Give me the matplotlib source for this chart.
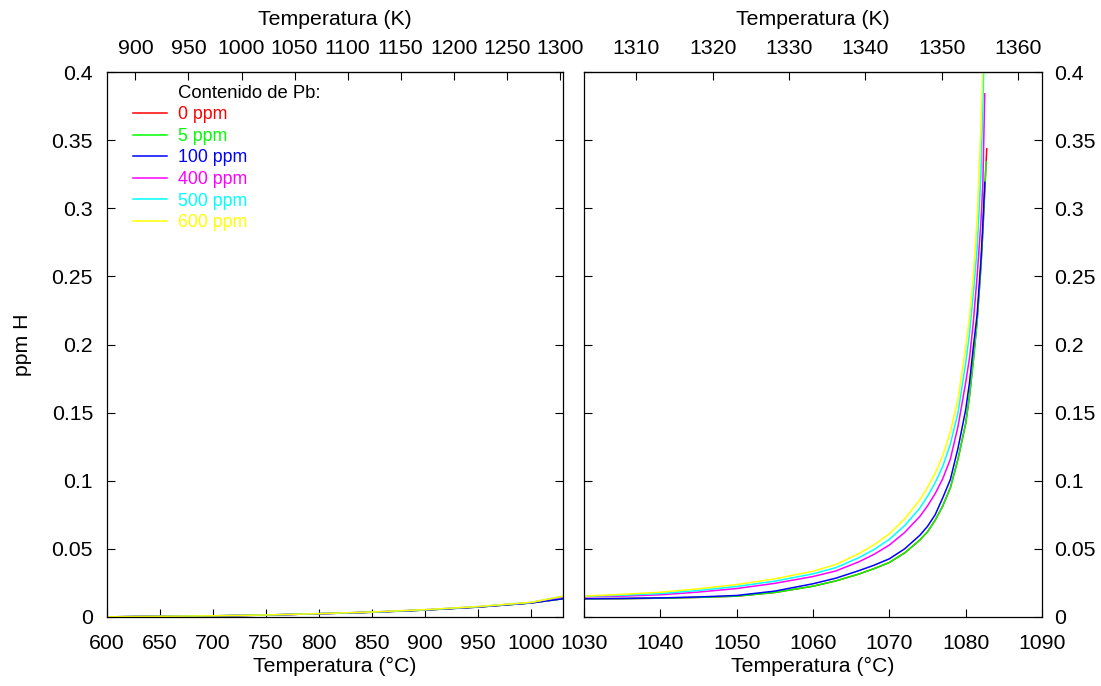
import numpy as np
import matplotlib
matplotlib.use("Agg")
from matplotlib import pyplot as plt
from matplotlib.lines import Line2D

plt.rcParams['font.family'] = ['Liberation Sans', 'DejaVu Sans']

# temperature grid (deg C) shared by all series
temp_c = [600, 650, 700, 750, 800, 850, 900, 950, 1000,
          1030, 1035, 1040, 1045, 1050, 1055, 1060, 1063, 1066, 1068,
          1070, 1072, 1074, 1075, 1076, 1077, 1078, 1079, 1080, 1080.5,
          1081, 1081.5, 1082, 1082.25]

# hydrogen content (ppm H) for each Pb level
h_0ppm = [0.0001, 0.0005, 0.0008, 0.0014, 0.0024, 0.0035, 0.0051, 0.0073, 0.0103,
          0.0134, 0.0135, 0.0138, 0.0144, 0.0153, 0.0180, 0.0226, 0.0265, 0.0315, 0.0355,
          0.0400, 0.0470, 0.0565, 0.0625, 0.0710, 0.0815, 0.0950, 0.1160, 0.1420, 0.1620,
          0.1880, 0.2170, 0.2570, 0.2830]
h_5ppm = [0.0001, 0.0005, 0.0008, 0.0014, 0.0024, 0.0035, 0.0051, 0.0073, 0.0103,
          0.0134, 0.0135, 0.0138, 0.0144, 0.0153, 0.0180, 0.0226, 0.0265, 0.0315, 0.0355,
          0.0400, 0.0470, 0.0565, 0.0625, 0.0710, 0.0815, 0.0950, 0.1160, 0.1420, 0.1620,
          0.1880, 0.2170, 0.2570, 0.2830]
h_100ppm = [0.0001, 0.0005, 0.0008, 0.0014, 0.0024, 0.0035, 0.0051, 0.0073, 0.0103,
            0.0134, 0.0136, 0.0140, 0.0147, 0.0158, 0.0190, 0.0244, 0.0285, 0.0340, 0.0380,
            0.0427, 0.0500, 0.0600, 0.0665, 0.0750, 0.0875, 0.1010, 0.1240, 0.1520, 0.1720,
            0.1980, 0.2220, 0.2620, 0.2880]
h_400ppm = [0.0001, 0.0005, 0.0009, 0.0015, 0.0024, 0.0036, 0.0053, 0.0075, 0.0106,
            0.0148, 0.0153, 0.0163, 0.0183, 0.0209, 0.0247, 0.0297, 0.0338, 0.0405, 0.0460,
            0.0528, 0.0620, 0.0738, 0.0815, 0.0905, 0.1015, 0.1160, 0.1400, 0.1720, 0.1900,
            0.2160, 0.2500, 0.2900, 0.3180]
h_500ppm = [0.0001, 0.0005, 0.0009, 0.0015, 0.0025, 0.0036, 0.0053, 0.0076, 0.0107,
            0.0152, 0.0160, 0.0172, 0.0195, 0.0224, 0.0263, 0.0317, 0.0362, 0.0435, 0.0495,
            0.0570, 0.0670, 0.0800, 0.0885, 0.0985, 0.1105, 0.1270, 0.1500, 0.1860, 0.2080,
            0.2370, 0.2700, 0.3250, 0.3750]
h_600ppm = [0.0001, 0.0005, 0.0009, 0.0015, 0.0025, 0.0037, 0.0054, 0.0077, 0.0108,
            0.0153, 0.0166, 0.0182, 0.0207, 0.0238, 0.0280, 0.0336, 0.0385, 0.0465, 0.0530,
            0.0610, 0.0720, 0.0860, 0.0950, 0.1055, 0.1185, 0.1360, 0.1600, 0.1980, 0.2200,
            0.2500, 0.2920, 0.3600, 0.4050]

# last computed point of each series (just below the melting point)
end_temp = [1082.76, 1082.67, 1082.5, 1082.5, 1082.45, 1082.35]
end_h = [0.3436, 0.3340, 0.3190, 0.3840, 0.4200, 0.4300]

labels = ['0 ppm', '5 ppm', '100 ppm', '400 ppm', '500 ppm', '600 ppm']
colors = ['#ff0000', '#00ff00', '#0000ff', '#ff00ff', '#00ffff', '#ffff00']
series = [h_0ppm, h_5ppm, h_100ppm, h_400ppm, h_500ppm, h_600ppm]

left_ticks_c = np.arange(600, 1001, 50)
left_ticks_k = np.arange(900, 1301, 50)
right_ticks_c = np.arange(1030, 1091, 10)
right_ticks_k = np.arange(1310, 1361, 10)
y_ticks = np.arange(0, 0.41, 0.05)

FS = 15.3


def c2k(t):
    return t + 273.15


def k2c(t):
    return t - 273.15


fig = plt.figure(figsize=(11.01, 6.86), dpi=100)
ax1 = fig.add_axes([107 / 1101, 69 / 686, 456 / 1101, 545 / 686])
ax2 = fig.add_axes([584 / 1101, 69 / 686, 458 / 1101, 545 / 686])

for ax in (ax1, ax2):
    for vals, t_end, h_end, col in zip(series, end_temp, end_h, colors):
        ax.plot(temp_c + [t_end], vals + [h_end], color=col, lw=1.1)
    ax.set_ylim(0, 0.4)
    ax.set_yticks(y_ticks)
    ax.set_yticklabels(['0' if v == 0 else f'{v:g}' for v in y_ticks])
    ax.tick_params(direction='in', length=6, width=0.8, labelsize=FS, pad=10,
                   left=True, right=True, top=False)
    ax.tick_params(axis='x', pad=12)
    for sp in ax.spines.values():
        sp.set_linewidth(0.9)
    ax.set_xlabel('Temperatura (°C)', fontsize=FS, labelpad=3)

ax1.set_xlim(600, 1030)
ax1.set_xticks(left_ticks_c)
ax1.set_ylabel('ppm H', fontsize=FS, labelpad=14)

ax2.set_xlim(1030, 1090)
ax2.set_xticks(right_ticks_c)
ax2.tick_params(axis='y', labelleft=False, labelright=True, pad=9)

for ax, kt in ((ax1, left_ticks_k), (ax2, right_ticks_k)):
    top = ax.secondary_xaxis('top', functions=(c2k, k2c))
    top.set_xticks(kt)
    top.tick_params(direction='in', length=6, width=0.8, labelsize=FS, pad=10)
    top.set_xlabel('Temperatura (K)', fontsize=FS, labelpad=10)

# legend: heading row followed by one coloured entry per Pb level
handles = [Line2D([], [], color='none')] + \
    [Line2D([], [], color=c, lw=1.1) for c in colors]
leg = ax1.legend(handles, ['Contenido de Pb:'] + labels, loc='upper left',
                 bbox_to_anchor=(0.041, 0.99), frameon=False, fontsize=12.8,
                 handlelength=1.9, handletextpad=0.67, labelspacing=0.26,
                 borderaxespad=0.0)
texts = leg.get_texts()
texts[0].set_color('black')
texts[0].set_fontsize(13.3)
for t, c in zip(texts[1:], colors):
    t.set_color(c)

fig.savefig('out.png', dpi=100)
